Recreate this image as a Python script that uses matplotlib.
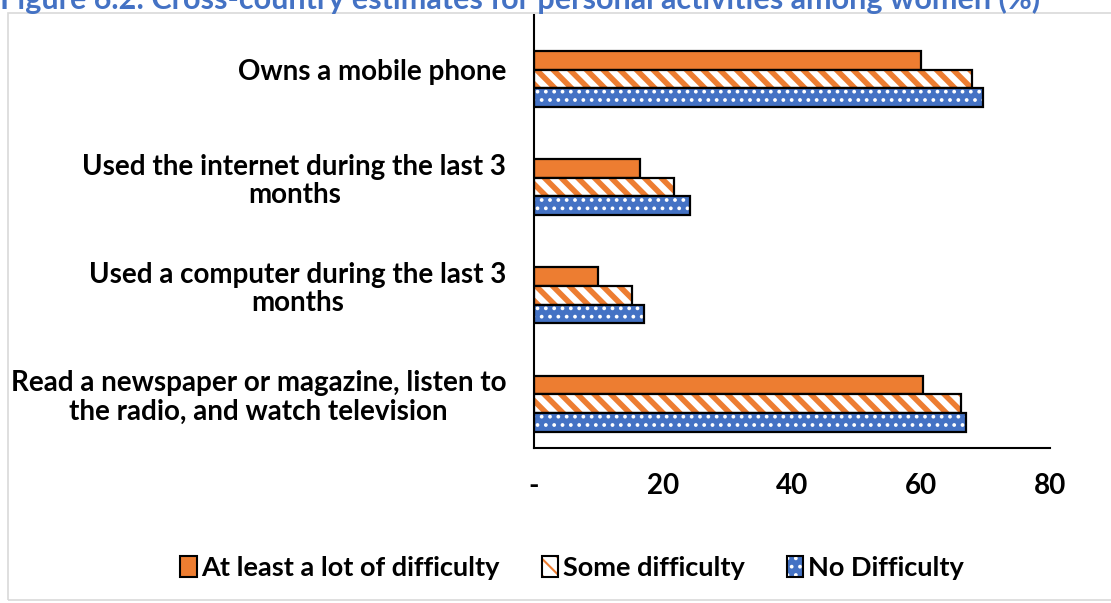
import matplotlib
matplotlib.use("Agg")
import matplotlib.pyplot as plt
from matplotlib.patches import Patch, Rectangle
import numpy as np

categories = ["Owns a mobile phone",
              "Used the internet during the last 3\nmonths",
              "Used a computer during the last 3\nmonths",
              "Read a newspaper or magazine, listen to\nthe radio, and watch television"]
series_names = ["At least a lot of difficulty", "Some difficulty", "No Difficulty"]
lot_difficulty = [60.0, 16.4, 9.9, 60.3]
some_difficulty = [67.9, 21.7, 15.2, 66.2]
no_difficulty = [69.6, 24.2, 17.1, 67.0]
xticks = [0, 20, 40, 60, 80]
xticklabels = ["-", "20", "40", "60", "80"]
title = "Figure 6.2: Cross-country estimates for personal activities among women (%)"

ORANGE = "#ED7D31"
BLUE = "#4472C4"
plt.rcParams['font.family'] = ['Lato', 'DejaVu Sans']

fig = plt.figure(figsize=(11.11, 6.03), dpi=100)
ax = fig.add_axes([534/1111, 1-448/603, (1050-534)/1111, (448-15)/603])

n = len(categories)
pos = np.arange(n)[::-1].astype(float)
h = 0.172
shift = -0.09
styles = [
    dict(face=ORANGE, hatch=None, hcol=ORANGE, hlw=0),
    dict(face="white", hatch="\\\\", hcol=ORANGE, hlw=4.0),
    dict(face=BLUE, hatch="..", hcol="white", hlw=1.5),
]
data = [lot_difficulty, some_difficulty, no_difficulty]
offsets = [h, 0, -h]
handles = []
for vals, st, off, name in zip(data, styles, offsets, series_names):
    if st["hatch"]:
        plt.rcParams['hatch.linewidth'] = st["hlw"]
        ax.barh(pos + shift + off, vals, height=h, color=st["face"], edgecolor=st["hcol"],
                hatch=st["hatch"], linewidth=0)
    else:
        ax.barh(pos + shift + off, vals, height=h, color=st["face"], linewidth=0)
    ax.barh(pos + shift + off, vals, height=h, fill=False, edgecolor="black", linewidth=1.6)
    p1 = Patch(facecolor=st["face"], edgecolor=st["hcol"], hatch=st["hatch"], linewidth=0)
    p2 = Patch(fill=False, edgecolor="black", linewidth=1.5)
    handles.append((p1, p2))

ax.set_xlim(0, 80)
ax.set_ylim(-0.5, n - 0.5)
ax.set_yticks(pos)
ax.set_yticklabels(categories, fontsize=20, fontweight="bold", multialignment="center",
                   linespacing=1.1)
ax.set_xticks(xticks)
ax.set_xticklabels(xticklabels, fontsize=20, fontweight="bold")
ax.tick_params(axis="both", length=0)
ax.tick_params(axis="y", pad=20)
ax.tick_params(axis="x", pad=18)
for s in ["top", "right"]:
    ax.spines[s].set_visible(False)
for s in ["left", "bottom"]:
    ax.spines[s].set_linewidth(1.5)
    ax.spines[s].set_color("black")

leg = fig.legend(handles, series_names, loc="center", bbox_to_anchor=(572/1111, 1-568/603),
                 ncol=3, frameon=False, prop=dict(weight="bold", size=19.5),
                 handlelength=0.6, handleheight=0.8, handletextpad=0.18, columnspacing=1.55)

fig.patches.append(Rectangle((8/1111, 0.005), 1.1, 1-13/603-0.005, transform=fig.transFigure,
                             fill=False, edgecolor="#D9D9D9", linewidth=1.2))
fig.text(0.0, 1-9/603, title, color=BLUE, fontsize=22, fontweight="bold",
         ha="left", va="baseline")

fig.savefig("out.png", dpi=100)
